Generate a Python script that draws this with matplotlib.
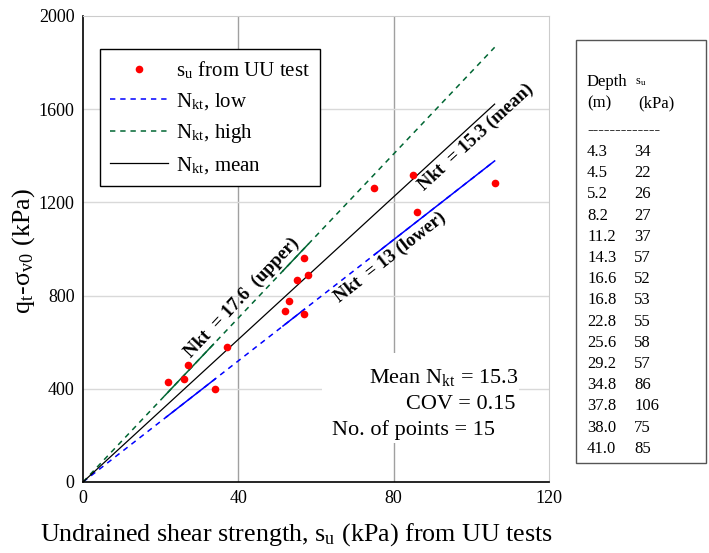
import numpy as np
import matplotlib
matplotlib.use("Agg")
import matplotlib.pyplot as plt
from matplotlib.patches import Rectangle

plt.rcParams['font.family'] = ['Liberation Serif', 'DejaVu Serif']
plt.rcParams['mathtext.fontset'] = 'stix'

# Undrained shear strength from UU tests and corrected cone resistance
su = [34, 22, 26, 27, 37, 57, 52, 53, 55, 58, 57, 86, 106, 75, 85]
qnet = [399, 430, 442, 502, 578, 963, 732, 778, 867, 888, 721, 1160, 1285, 1262, 1318]
depth_labels = ["4.3", "4.5", "5.2", "8.2", "11.2", "14.3", "16.6", "16.8",
                "22.8", "25.6", "29.2", "34.8", "37.8", "38.0", "41.0"]
su_labels = ["34", "22", "26", "27", "37", "57", "52", "53",
             "55", "58", "57", "86", "106", "75", "85"]

nkt_low, nkt_high, nkt_mean = 13.0, 17.6, 15.3
su_max = 106
cov = 0.15

W, H = 709, 553
fig = plt.figure(figsize=(W / 100, H / 100), dpi=100)
ax = fig.add_axes([83 / W, 1 - 482 / H, 466 / W, 466 / H])
ax.set_xlim(0, 120)
ax.set_ylim(0, 2000)
ax.set_xticks([0, 40, 80, 120])
ax.set_yticks([0, 400, 800, 1200, 1600, 2000])
ax.tick_params(length=0, labelsize=13, pad=6)

# grid: darker verticals, light horizontals
for xv in [40, 80]:
    ax.axvline(xv, color='#a0a0a0', lw=1, zorder=0.5)
for yv in [400, 800, 1200, 1600]:
    ax.axhline(yv, color='#d9d9d9', lw=1, zorder=0.5)
ax.spines['top'].set_color('#cccccc')
ax.spines['right'].set_color('#cccccc')
for s in ['left', 'bottom']:
    ax.spines[s].set_linewidth(1.2)

x = np.array([0, su_max])
dash = (0, (3.5, 3.2))
ax.plot(x, nkt_low * x, color='#0000ff', lw=1.1, ls=dash, zorder=2, label=r'N$_{\mathregular{kt}}$, low')
ax.plot(x, nkt_high * x, color='#006633', lw=1.1, ls=dash, zorder=2, label=r'N$_{\mathregular{kt}}$, high')
ax.plot(x, nkt_mean * x, color='black', lw=0.9, zorder=2, label=r'N$_{\mathregular{kt}}$, mean')

# solid stretches over the data range
for a, b in [(21, 33.6), (51.5, 58)]:
    xs = np.array([a, b])
    ax.plot(xs, nkt_high * xs, color='#006633', lw=1.1, zorder=2)
for a, b in [(21.5, 34), (51.5, 57), (75, su_max)]:
    xs = np.array([a, b])
    ax.plot(xs, nkt_low * xs, color='#0000ff', lw=1.1, zorder=2)

ax.plot(su, qnet, 'o', color='#ff0000', ms=5.5, mec='none', zorder=3,
        label=r's$_{\mathregular{u}}$ from UU test')

handles, labels = ax.get_legend_handles_labels()
order = [3, 0, 1, 2]
leg = ax.legend([handles[i] for i in order], [labels[i] for i in order],
                loc='upper left', bbox_to_anchor=(17 / 466, 433 / 466),
                borderaxespad=0, fontsize=15, frameon=True, fancybox=False,
                edgecolor='black', framealpha=1, handlelength=2.75,
                handletextpad=0.4, labelspacing=0.48, borderpad=0.5)
leg.get_frame().set_linewidth(1.0)


def line_angle(slope):
    p0 = ax.transData.transform((0, 0))
    p1 = ax.transData.transform((100, 100 * slope))
    return np.degrees(np.arctan2(p1[1] - p0[1], p1[0] - p0[0]))


ax.text(41, 790, 'Nkt  = 17.6  (upper)', rotation=line_angle(nkt_high),
        rotation_mode='anchor', ha='center', va='center', fontsize=13.5,
        fontweight='bold', zorder=4)
ax.text(101.2, 1478, 'Nkt  = 15.3 (mean)', rotation=line_angle(nkt_mean),
        rotation_mode='anchor', ha='center', va='center', fontsize=13.5,
        fontweight='bold', zorder=4)
ax.text(79.1, 965, 'Nkt  = 13 (lower)', rotation=line_angle(nkt_low),
        rotation_mode='anchor', ha='center', va='center', fontsize=13.5,
        fontweight='bold', zorder=4)

# summary statistics on a white patch
ax.add_patch(Rectangle((61.5, 167), 50.8, 387, facecolor='white',
                       edgecolor='none', zorder=1))
ax.text(112.0, 450, r'Mean N$_{\mathregular{kt}}$ = %.1f' % nkt_mean, ha='right',
        va='center', fontsize=16, zorder=4)
ax.text(111.3, 332, 'COV = %.2f' % cov, ha='right', va='center', fontsize=16, zorder=4)
ax.text(106.1, 225, 'No. of points = %d' % len(su), ha='right', va='center',
        fontsize=16, zorder=4)

ax.set_xlabel(r'Undrained shear strength, s$_{\mathregular{u}}$ (kPa) from UU tests',
              fontsize=18.7)
ax.xaxis.set_label_coords((296 - 83) / 466, -(535 - 482) / 466)
ax.xaxis.label.set_va('center')
ax.set_ylabel(r'q$_{\mathregular{t}}$-σ$_{\mathregular{v0}}$ (kPa)', fontsize=18.7)
ax.yaxis.set_label_coords(-(83 - 24) / 466, (482 - 251) / 466)
ax.yaxis.label.set_va('center')

# data table at the right
def fx(px):
    return px / W


def fy(py):
    return 1 - py / H


fig.patches.append(Rectangle((fx(576), fy(463)), (706 - 576) / W, (463 - 40) / H,
                             transform=fig.transFigure, facecolor='white',
                             edgecolor='#555555', lw=1))
tfs = 12
fig.text(fx(587), fy(82), 'Depth', fontsize=tfs, va='center')
fig.text(fx(635), fy(82), r's$_{\mathregular{u}}$', fontsize=tfs * 0.75, va='center')
fig.text(fx(587), fy(103), '(m)', fontsize=tfs, va='center')
fig.text(fx(638), fy(103), '(kPa)', fontsize=tfs, va='center')
fig.text(fx(587), fy(130), '-------------', fontsize=tfs, va='center')
for i, (d, s) in enumerate(zip(depth_labels, su_labels)):
    yy = 152 + i * 21.2
    fig.text(fx(587), fy(yy), d, fontsize=tfs, va='center')
    fig.text(fx(634), fy(yy), s, fontsize=tfs, va='center')

fig.savefig('out.png', dpi=100)
